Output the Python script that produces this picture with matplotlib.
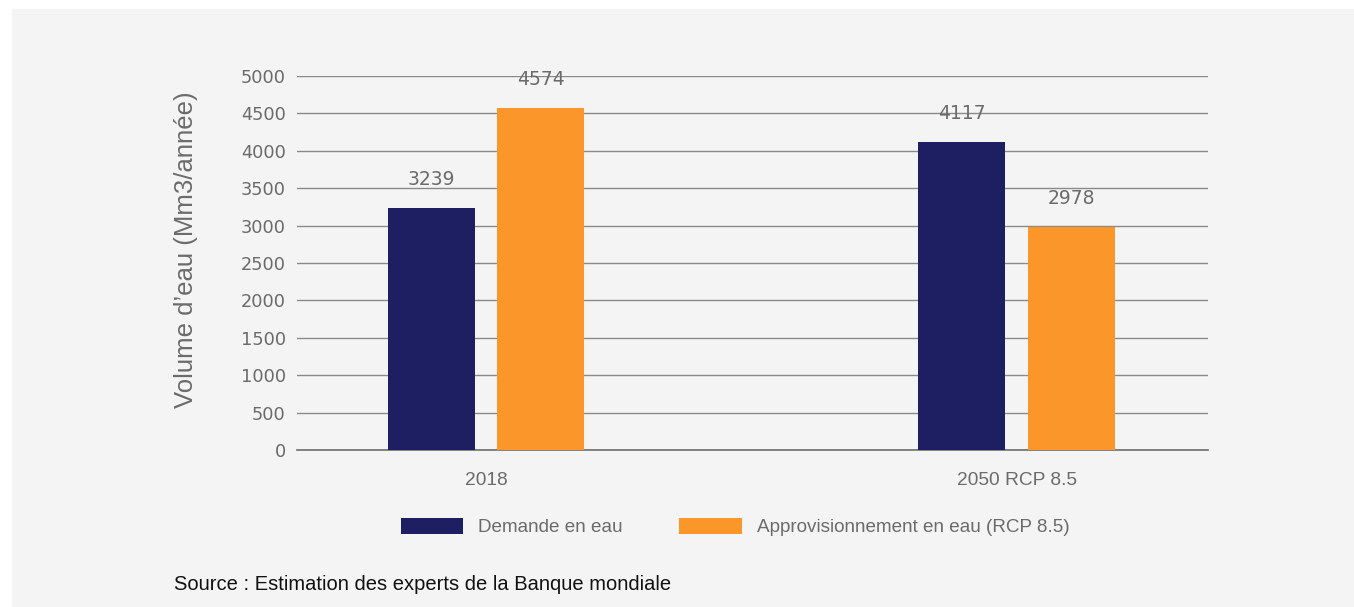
import matplotlib
matplotlib.use("Agg")
import matplotlib.pyplot as plt
from matplotlib.patches import Rectangle
import numpy as np

categories = ["2018", "2050 RCP 8.5"]
demande = [3239, 4117]
approvisionnement = [4574, 2978]
series_names = ["Demande en eau", "Approvisionnement en eau (RCP 8.5)"]
yticks = [0, 500, 1000, 1500, 2000, 2500, 3000, 3500, 4000, 4500, 5000]

NAVY = "#1e1e62"
ORANGE = "#fb962b"
BG = "#f4f4f4"
GREY = "#6b6b6b"
SANS = ["Liberation Sans", "DejaVu Sans"]
NUM = ["DejaVu Sans"]

W, H = 1354, 607
fig = plt.figure(figsize=(W / 100, H / 100), dpi=100)
fig.patch.set_facecolor("white")
fig.add_artist(Rectangle((12 / W, 0), 1, 1 - 9 / H, transform=fig.transFigure,
                         facecolor=BG, edgecolor="none", zorder=-10))

ax = fig.add_axes([297 / W, 1 - 450 / H, (1208 - 297) / W, (450 - 76) / H])
ax.set_facecolor("none")

x = np.arange(len(categories))
off, bw = 0.1035, 0.164
b1 = ax.bar(x - off, demande, bw, color=NAVY, label=series_names[0], zorder=3)
b2 = ax.bar(x + off, approvisionnement, bw, color=ORANGE, label=series_names[1], zorder=3)
for bars, vals in ((b1, demande), (b2, approvisionnement)):
    for r, v in zip(bars, vals):
        ax.annotate(str(v), (r.get_x() + r.get_width() / 2, v), xytext=(0, 13.5),
                    textcoords="offset points", ha="center", va="bottom",
                    fontsize=13.5, color=GREY, family=NUM)

ax.set_xlim(-0.356, 1.36)
ax.set_ylim(0, 5000)
ax.set_yticks(yticks)
ax.set_yticklabels([str(t) for t in yticks], fontsize=12.8, color=GREY, family=NUM)
ax.set_xticks(x)
ax.set_xticklabels(categories, fontsize=13.8, color=GREY, family=SANS)
ax.tick_params(axis="y", length=0, pad=8)
ax.tick_params(axis="x", length=0, pad=16)
ax.yaxis.grid(True, color="#8a8a8a", linewidth=1.0, zorder=0)
ax.set_axisbelow(True)
for s in ("top", "right", "left"):
    ax.spines[s].set_visible(False)
ax.spines["bottom"].set_color("#6e6e6e")
ax.spines["bottom"].set_linewidth(1.2)

fig.text(186 / W, 1 - 250 / H, "Volume d\u2019eau (Mm3/année)", rotation=90,
         ha="center", va="center", fontsize=18.5, color=GREY, family=SANS)

leg = fig.legend(handles=[b1, b2], labels=series_names, loc="center",
                 bbox_to_anchor=(735 / W, 1 - 527 / H), ncol=2, frameon=False,
                 handlelength=3.3, handleheight=0.9, handletextpad=0.8,
                 columnspacing=3.0, prop={"family": SANS, "size": 13.6})
for t in leg.get_texts():
    t.set_color(GREY)

fig.text(174 / W, 1 - 585 / H, "Source : Estimation des experts de la Banque mondiale",
         ha="left", va="center", fontsize=14.5, color="#111111", family=SANS)

fig.savefig("out.png", dpi=100, facecolor=fig.get_facecolor())
